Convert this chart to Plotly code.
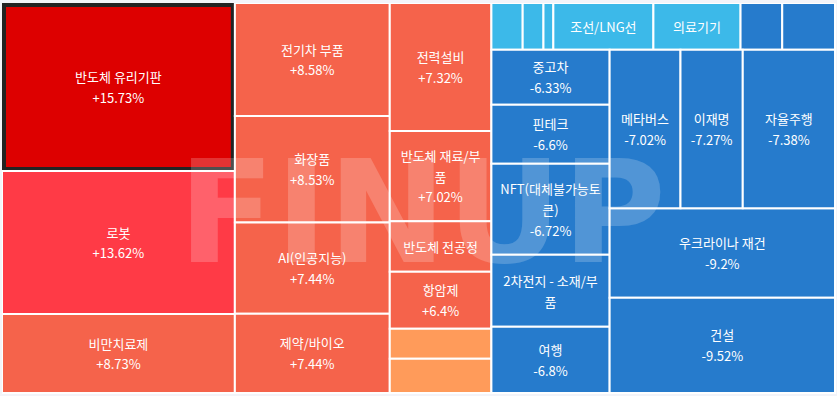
import plotly.graph_objects as go

# ---------------- data ----------------
# Each group: labels (with line breaks as displayed), change %, tile weight (relative area)
col1_labels = ["반도체 유리기판", "로봇", "비만치료제"]
col1_change = [15.73, 13.62, 8.73]
col1_weight = [39144, 33319, 18407]

col2_labels = ["전기차 부품", "화장품", "AI(인공지능)", "제약/바이오"]
col2_change = [8.58, 8.53, 7.44, 7.44]
col2_weight = [17515, 16523, 14121, 12292]

col3_labels = ["전력설비", "반도체 재료/부<br>품", "반도체 전공정", "항암제", "", ""]
col3_change = [7.32, 7.02, None, 6.4, None, None]
col3_weight = [13018, 9173, 5146, 5797, 3051, 3478]

top_labels = ["", "", "", "조선/LNG선", "의료기기", "", ""]
top_change = [None, None, None, None, None, None, None]
top_weight = [1465, 973, 463, 4685, 4081, 1952, 2471]

left_labels = ["중고차", "핀테크", "NFT(대체불가능토<br>큰)", "2차전지 - 소재/부<br>품", "여행"]
left_change = [-6.33, -6.6, -6.72, None, -6.8]
left_weight = [6507, 6980, 10753, 8518, 7843]

mid_labels = ["메타버스", "이재명", "자율주행"]
mid_change = [-7.02, -7.27, -7.38]
mid_weight = [11238, 9875, 14630]

low_labels = ["우크라이나 재건", "건설"]
low_change = [-9.2, -9.52]
low_weight = [20160, 21490]

# ---------------- styles ----------------
C_TOP = "#dd0000"
C_ROBOT = "#ff3a46"
C_RED = "#f5634b"
C_ORANGE = "#ff9b5a"
C_LBLUE = "#3cb9e9"
C_BLUE = "#267bcc"
C_BORDER = "#232323"
BG = "#f3f4f9"
CLEAR = "rgba(0,0,0,0)"

col1_colors = [C_TOP, C_ROBOT, C_RED]
col2_colors = [C_RED] * 4
col3_colors = [C_RED, C_RED, C_RED, C_RED, C_ORANGE, C_ORANGE]
top_colors = [C_LBLUE] * 5 + [C_BLUE] * 2
left_colors = [C_BLUE] * 5
mid_colors = [C_BLUE] * 3
low_colors = [C_BLUE] * 2

ids, labels, parents, values, colors, texts, lw, lc = [], [], [], [], [], [], [], []


def add_parent(pid, parent):
    ids.append(pid)
    labels.append("")
    parents.append(parent)
    values.append(0)
    colors.append(CLEAR)
    texts.append("")
    lw.append(0)
    lc.append(CLEAR)


def fmt(label, change):
    lines = label.split("<br>") if label else []
    if change is not None:
        lines.append(f"{change:+g}%")
    return "<br>".join(f"<span style='font-size:13px'>{l}</span>" for l in lines)


def add_leaves(prefix, parent, labs, chg, wts, cols):
    for i, (l, c, w, col) in enumerate(zip(labs, chg, wts, cols)):
        ids.append(f"leaf_{prefix}_{i}")
        labels.append(l.replace("<br>", ""))
        parents.append(parent)
        values.append(w)
        colors.append(col)
        texts.append(fmt(l, c))
        lw.append(2)
        lc.append("white")


add_parent("root", "")
add_parent("g_col1", "root")
add_parent("g_col2", "root")
add_parent("g_col3", "root")
add_parent("g_right", "root")
add_leaves("a", "g_col1", col1_labels, col1_change, col1_weight, col1_colors)
add_leaves("b", "g_col2", col2_labels, col2_change, col2_weight, col2_colors)
add_leaves("c", "g_col3", col3_labels, col3_change, col3_weight, col3_colors)
add_parent("g_top", "g_right")
add_parent("g_bottom", "g_right")
add_leaves("d", "g_top", top_labels, top_change, top_weight, top_colors)
add_parent("g_left", "g_bottom")
add_parent("g_rest", "g_bottom")
add_leaves("e", "g_left", left_labels, left_change, left_weight, left_colors)
add_parent("g_mid", "g_rest")
add_leaves("f", "g_mid", mid_labels, mid_change, mid_weight, mid_colors)
add_leaves("g", "g_rest", low_labels, low_change, low_weight, low_colors)

# highlighted tile border
hi = ids.index("leaf_a_0")
lw[hi] = 8
lc[hi] = C_BORDER

fig = go.Figure(
    go.Treemap(
        ids=ids,
        labels=labels,
        parents=parents,
        values=values,
        branchvalues="remainder",
        sort=False,
        text=texts,
        textinfo="text",
        textposition="middle center",
        textfont=dict(family="Noto Sans CJK KR", size=16, color="white"),
        marker=dict(
            colors=colors,
            line=dict(width=lw, color=lc),
            pad=dict(t=0, l=0, r=0, b=0),
            depthfade=False,
        ),
        tiling=dict(packing="slice-dice", pad=0),
        pathbar=dict(visible=False),
        root=dict(color=CLEAR),
        hoverinfo="skip",
    )
)

# page-colour masks so the highlight border stays inside the chart area
fig.add_shape(type="rect", xref="paper", yref="paper", x0=-0.01, x1=0, y0=-0.02, y1=1.02,
              fillcolor=BG, line_width=0, layer="above")
fig.add_shape(type="rect", xref="paper", yref="paper", x0=-0.01, x1=1.01, y0=1, y1=1.02,
              fillcolor=BG, line_width=0, layer="above")

fig.add_annotation(
    text="FINUP",
    xref="paper", yref="paper",
    x=0.504, y=0.462,
    showarrow=False,
    font=dict(family="DejaVu Sans", size=142, color="rgba(255,255,255,0.2)", weight=900),
)

fig.update_layout(
    width=837,
    height=396,
    margin=dict(l=2, r=1.5, t=3, b=3),
    paper_bgcolor=BG,
    uniformtext=dict(minsize=16, mode="show"),
)

fig.write_html("out.html")
